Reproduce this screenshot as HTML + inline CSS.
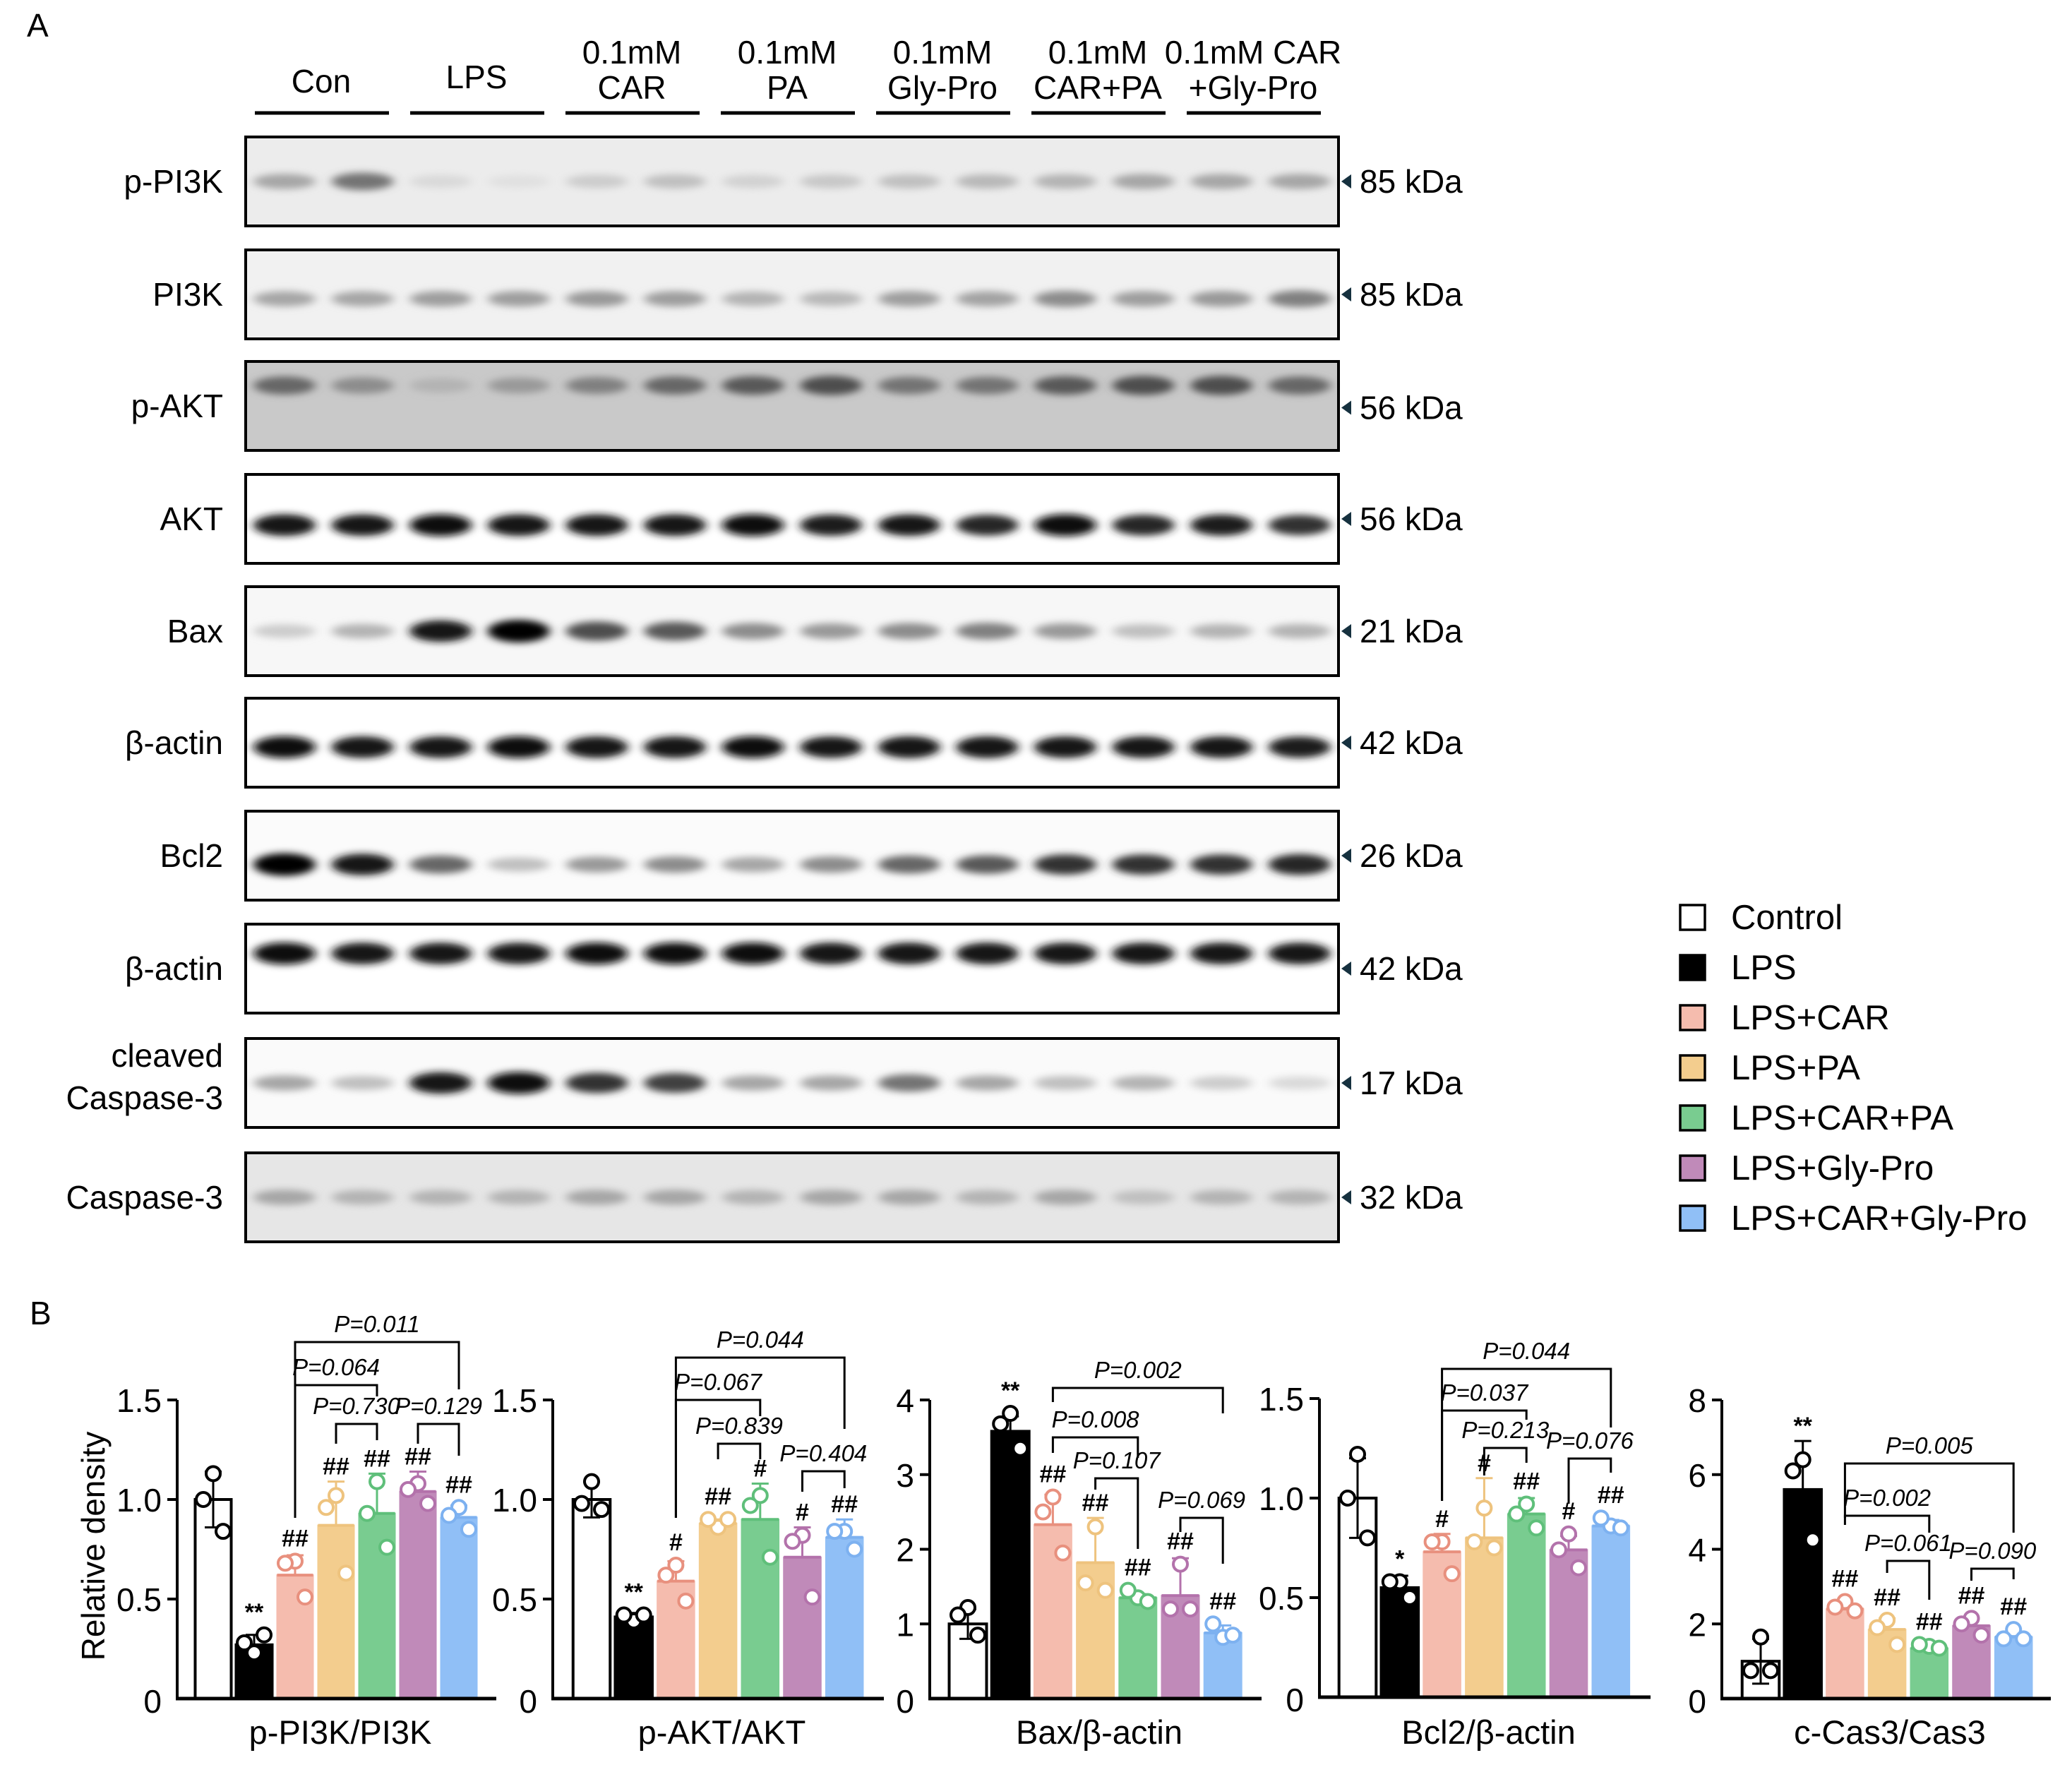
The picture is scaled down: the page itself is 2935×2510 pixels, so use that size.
<!DOCTYPE html>
<html><head><meta charset="utf-8">
<style>
html,body{margin:0;padding:0;background:#fff;}
svg{display:block;font-family:"Liberation Sans",Arial,sans-serif;}
</style></head>
<body>
<svg id="fig" width="2935" height="2510" viewBox="0 0 2935 2510" xmlns="http://www.w3.org/2000/svg">
<defs>
<filter id="blur" x="-50%" y="-100%" width="200%" height="300%"><feGaussianBlur stdDeviation="7 5"/></filter>
</defs>
<text x="38" y="52" font-size="46">A</text>
<text x="42" y="1876" font-size="46">B</text>
<g id="blots"></g>
<g id="legend"></g>
<g id="charts"></g>
</svg>
<script>
const NS="http://www.w3.org/2000/svg";
function mk(tag,attrs,parent){const e=document.createElementNS(NS,tag);for(const k in attrs)e.setAttribute(k,attrs[k]);if(parent)parent.appendChild(e);return e;}

// ---------- Panel A: western blot ----------
const laneHeaders=[["Con"],["LPS"],["0.1mM","CAR"],["0.1mM","PA"],["0.1mM","Gly-Pro"],["0.1mM","CAR+PA"],["0.1mM CAR","+Gly-Pro"]];
const blotNames=["p-PI3K","PI3K","p-AKT","AKT","Bax","β-actin","Bcl2","β-actin","cleaved|Caspase-3","Caspase-3"];
const blotKda=["85 kDa","85 kDa","56 kDa","56 kDa","21 kDa","42 kDa","26 kDa","42 kDa","17 kDa","32 kDa"];
const blotTops=[194,354,512,672,831,989,1149,1309,1471,1633];
const blotBg=["#ececec","#f1f1f1","#c9c9c9","#ffffff","#f7f7f7","#ffffff","#fbfbfb","#ffffff","#fafafa","#e6e6e6"];
const bandRel=[0.5,0.55,0.27,0.57,0.5,0.55,0.6,0.33,0.5,0.5];
const bandInt=[
[.35,.55,.15,.12,.2,.25,.18,.22,.25,.28,.3,.35,.35,.35],
[.35,.35,.38,.38,.4,.38,.3,.28,.38,.36,.45,.38,.4,.5],
[.6,.45,.3,.4,.5,.6,.65,.7,.55,.55,.65,.7,.7,.6],
[.92,.9,.95,.92,.92,.92,.95,.88,.9,.85,.95,.85,.88,.8],
[.2,.3,.9,1,.7,.65,.45,.4,.45,.5,.4,.25,.3,.3],
[.95,.92,.92,.95,.92,.92,.95,.9,.93,.93,.92,.92,.92,.88],
[1,.9,.6,.25,.4,.45,.35,.45,.6,.65,.8,.8,.8,.85],
[.95,.92,.92,.92,.95,.95,.95,.93,.93,.93,.92,.92,.92,.92],
[.35,.25,.9,.95,.8,.75,.35,.35,.55,.35,.25,.3,.2,.15],
[.35,.3,.3,.3,.35,.35,.3,.35,.35,.3,.35,.25,.3,.3]];
(function(){
const g=document.getElementById('blots');
laneHeaders.forEach((h,i)=>{
  const x0=361+i*220, cx=x0+94;
  const l=mk('line',{x1:x0,x2:x0+190,y1:160,y2:160,stroke:'#000','stroke-width':5},g);
  
  
  h.forEach((t,j)=>{
    const y = h.length===1 ? (i===0?131:125) : 90+j*50;
    const tx=mk('text',{x:cx,y:y,'font-size':46,'text-anchor':'middle'},g);
    tx.textContent=t;
    
    
  });
});
blotNames.forEach((n,r)=>{
  const top=blotTops[r],h=126,x=348,w=1548;
  const box=mk('rect',{x:x,y:top,width:w,height:h,fill:blotBg[r],stroke:'#000','stroke-width':4},g);
  
  
  const by=top+h*bandRel[r];
  bandInt[r].forEach((v,i)=>{
    const cx=x+55+i*110.6;
    const c=Math.round(255*(1-v));
    const e=mk('ellipse',{cx:cx,cy:by,rx:44,ry:8+8*v,fill:`rgb(${c},${c},${c})`,filter:'url(#blur)'},g);
    
    
  });
  mk('rect',{x:x,y:top,width:w,height:h,fill:'none',stroke:'#000','stroke-width':4},g);
  const parts=n.split('|');
  const ly=top+h/2+16;
  parts.forEach((p,j)=>{
    const t=mk('text',{x:316,y: parts.length>1? top+40+j*60 : ly,'font-size':46,'text-anchor':'end'},g);
    t.textContent=p;
    
    
  });
  const ky=top+h*(r===2?0.52:0.5);
  mk('path',{d:`M1900 ${ky} l14 -10 v20 z`,fill:'#16313f'},g);
  const k=mk('text',{x:1926,y:ky+16,'font-size':46},g);
  k.textContent=blotKda[r];
  
  
});
})();

// ---------- Legend ----------
const groups=["Control","LPS","LPS+CAR","LPS+PA","LPS+CAR+PA","LPS+Gly-Pro","LPS+CAR+Gly-Pro"];
const fills=["#ffffff","#000000","#f5bcae","#f3cd8e","#79cc90","#c08ab9","#90bff6"];
const edges=["#000000","#000000","#e8907e","#eec37e","#5fbf7a","#b372ab","#7db1f0"];
(function(){
const g=document.getElementById('legend');
groups.forEach((n,i)=>{
  const y=1282+i*71;
  const r=mk('rect',{x:2380,y:y,width:35,height:35,fill:fills[i],stroke:'#000','stroke-width':3.5},g);
  
  
  const t=mk('text',{x:2452,y:y+34,'font-size':49},g);
  t.textContent=n;
  
  
});
})();

// ---------- Panel B: bar charts ----------
const chartTitles=["p-PI3K/PI3K","p-AKT/AKT","Bax/β-actin","Bcl2/β-actin","c-Cas3/Cas3"];
const chartMax=[1.5,1.5,4,1.5,8];
const tickLabels=[["0","0.5","1.0","1.5"],["0","0.5","1.0","1.5"],["0","1","2","3","4"],["0","0.5","1.0","1.5"],["0","2","4","6","8"]];
const tickValues=[[0,0.5,1,1.5],[0,0.5,1,1.5],[0,1,2,3,4],[0,0.5,1,1.5],[0,2,4,6,8]];
const means1=[1.0,0.27,0.62,0.87,0.93,1.04,0.91];
const means2=[1.0,0.41,0.59,0.88,0.90,0.71,0.81];
const means3=[1.0,3.58,2.33,1.82,1.35,1.38,0.88];
const means4=[1.0,0.55,0.73,0.80,0.92,0.74,0.86];
const means5=[1.0,5.6,2.4,1.85,1.35,1.95,1.65];
const sd1=[0.14,0.05,0.10,0.22,0.20,0.10,0.06];
const sd2=[0.09,0.02,0.10,0.02,0.18,0.15,0.09];
const sd3=[0.20,0.20,0.40,0.60,0.05,0.50,0.10];
const sd4=[0.20,0.06,0.09,0.30,0.08,0.07,0.03];
const sd5=[0.60,1.30,0.15,0.30,0.07,0.20,0.15];
const pts1=[[1.13,1.0,0.84],[0.23,0.28,0.32],[0.69,0.68,0.51],[1.02,0.96,0.63],[1.09,0.93,0.76],[1.08,1.05,0.98],[0.96,0.92,0.85]];
const pts2=[[1.09,0.98,0.95],[0.39,0.42,0.42],[0.67,0.62,0.49],[0.86,0.9,0.9],[1.02,0.97,0.71],[0.82,0.79,0.51],[0.84,0.84,0.75]];
const pts3=[[1.22,1.12,0.85],[3.82,3.68,3.35],[2.7,2.5,1.95],[2.3,1.55,1.45],[1.35,1.45,1.3],[1.8,1.2,1.2],[0.82,1.0,0.85]];
const pts4=[[1.22,1.0,0.8],[0.58,0.58,0.5],[0.78,0.78,0.62],[0.95,0.78,0.75],[0.97,0.92,0.85],[0.82,0.74,0.65],[0.86,0.9,0.85]];
const pts5=[[1.65,0.75,0.75],[6.4,6.1,4.25],[2.6,2.45,2.35],[2.1,1.9,1.45],[1.4,1.45,1.35],[2.15,2.0,1.7],[1.85,1.6,1.6]];
const sigMarks=[["","**","##","##","##","##","##"],["","**","#","##","#","#","##"],["","**","##","##","##","##","##"],["","*","#","#","##","#","##"],["","**","##","##","##","##","##"]];
const pLabels=[["P=0.011","P=0.064","P=0.730","P=0.129"],["P=0.044","P=0.067","P=0.839","P=0.404"],["P=0.002","P=0.008","P=0.107","P=0.069"],["P=0.044","P=0.037","P=0.213","P=0.076"],["P=0.005","P=0.002","P=0.061","P=0.090"]];
const pPairs=[[2,6],[2,4],[3,4],[5,6]];
const allMeans=[means1,means2,means3,means4,means5];
const allSd=[sd1,sd2,sd3,sd4,sd5];
const allPts=[pts1,pts2,pts3,pts4,pts5];
// layout (pixels)
const axX=[251,783,1317,1869,2439], axEnd=[703,1252,1787,2338,2905], axTop=[1983,1983,1983,1981,1983], axZero=[2406,2406,2406,2404,2406];
const barC0=[302,838,1371,1923,2494], barStep=[58,59.7,60.2,59.8,59.7];
const brY=[[1901,1962,2017,2017],[1923,1983,2045,2084],[1966,2036,2094,2150],[1939,1998,2051,2066],[2073,2147,2211,2222]];
const brLegs=[[[2150,1968],[2150,1978],[2045,2040],[2045,2062]],[[2150,2024],[2150,2006],[2067,2067],[2113,2108]],[[1986,2002],[2058,2065],[2110,2194],[2170,2215]],[[2126,2022],[2126,2011],[2090,2072],[2130,2086]],[[2150,2171],[2160,2171],[2228,2266],[2239,2237]]];
(function(){
const root=document.getElementById('charts');
for(let c=0;c<5;c++){
  const g=mk('g',{},root);
  
  
  const yS=v=>axZero[c]-(v/chartMax[c])*(axZero[c]-axTop[c]);
  const xS=i=>barC0[c]+i*barStep[c];
  const bw=barStep[c]*0.88;
  allMeans[c].forEach((m,i)=>{
    const y=yS(m);
    const b=mk('rect',{x:xS(i)-bw/2,y:y,width:bw,height:axZero[c]-y,fill:fills[i],stroke:i<2?'#000':fills[i],'stroke-width':i<2?4:2},g);
    
    
    if(i>=2){mk('line',{x1:xS(i)-bw/2,x2:xS(i)+bw/2,y1:y,y2:y,stroke:edges[i],'stroke-width':4},g);}
    const eTop=yS(m+allSd[c][i]);
    const ec=i<2?'#000':edges[i];
    const e1=mk('line',{x1:xS(i),x2:xS(i),y1:y,y2:eTop,stroke:ec,'stroke-width':3},g);
    
    
    mk('line',{x1:xS(i)-12,x2:xS(i)+12,y1:eTop,y2:eTop,stroke:ec,'stroke-width':3},g);
    if(i===0){const eb=yS(m-allSd[c][i]);mk('line',{x1:xS(i),x2:xS(i),y1:y,y2:eb,stroke:ec,'stroke-width':3},g);mk('line',{x1:xS(i)-12,x2:xS(i)+12,y1:eb,y2:eb,stroke:ec,'stroke-width':3},g);}
    const offs=[0,-14,14];
    let topY=eTop;
    allPts[c][i].forEach((p,k)=>{
      const py=yS(p); topY=Math.min(topY,py-11);
      const pc=mk('circle',{cx:xS(i)+offs[k],cy:py,r:10,fill:'#fff',stroke:i<2?'#000':edges[i],'stroke-width':4},g);
      
      
    });
    if(sigMarks[c][i]){
      const s=mk('text',{x:xS(i),y:topY-10,'font-size':34,'font-weight':'bold','text-anchor':'middle'},g);
      s.textContent=sigMarks[c][i];
      
      
    }
  });
  const ya=mk('line',{x1:axX[c],x2:axX[c],y1:axTop[c],y2:axZero[c]+2,stroke:'#000','stroke-width':4},g);
  
  
  const xa=mk('line',{x1:axX[c]-2,x2:axEnd[c],y1:axZero[c],y2:axZero[c],stroke:'#000','stroke-width':5},g);
  
  
  tickValues[c].forEach((v,k)=>{
    const y=yS(v);
    if(k>0) mk('line',{x1:axX[c]-14,x2:axX[c],y1:y,y2:y,stroke:'#000','stroke-width':4},g);
    const t=mk('text',{x:axX[c]-22,y:y+(k===0?20:17),'font-size':46,'text-anchor':'end'},g);
    t.textContent=tickLabels[c][k];
    
    
  });
  const tt=mk('text',{x:(axX[c]+axEnd[c])/2+5,y:2470,'font-size':47,'text-anchor':'middle'},g);
  tt.textContent=chartTitles[c];
  
  
  pPairs.forEach((pr,k)=>{
    const x1=xS(pr[0]),x2=xS(pr[1]),y=brY[c][k];
    const br=mk('path',{d:`M${x1} ${brLegs[c][k][0]} V${y} H${x2} V${brLegs[c][k][1]}`,fill:'none',stroke:'#000','stroke-width':3},g);
    
    
    const pt=mk('text',{x:(x1+x2)/2,y:y-14,'font-size':33,'font-style':'italic','text-anchor':'middle'},g);
    pt.textContent=pLabels[c][k];
    
    
  });
}
const yt=mk('text',{x:0,y:0,'font-size':46,'text-anchor':'middle',transform:'translate(148,2190) rotate(-90)'},root);
yt.textContent="Relative density";


})();
</script>
</body></html>
